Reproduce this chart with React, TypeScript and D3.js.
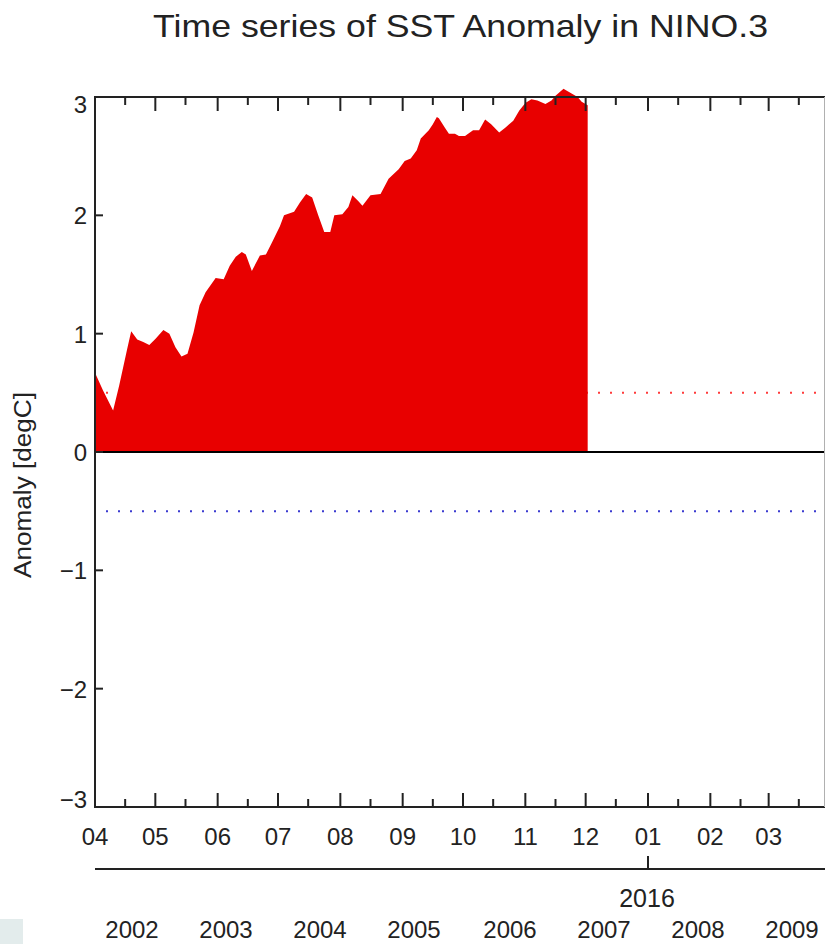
import { useEffect, useRef } from 'react'
import * as d3 from 'd3'

// daily NINO.3 SST anomaly, Apr - Dec 2015
const dates = [
  '2015-04-01', '2015-04-05', '2015-04-10', '2015-04-13', '2015-04-17', '2015-04-19',
  '2015-04-22', '2015-04-25', '2015-04-28', '2015-05-01', '2015-05-05', '2015-05-08',
  '2015-05-11', '2015-05-14', '2015-05-17', '2015-05-20', '2015-05-23', '2015-05-26',
  '2015-05-31', '2015-06-04', '2015-06-07', '2015-06-10', '2015-06-13', '2015-06-15',
  '2015-06-18', '2015-06-22', '2015-06-25', '2015-06-28', '2015-07-02', '2015-07-04',
  '2015-07-09', '2015-07-12', '2015-07-15', '2015-07-18', '2015-07-21', '2015-07-24',
  '2015-07-27', '2015-07-29', '2015-08-02', '2015-08-05', '2015-08-07', '2015-08-10',
  '2015-08-12', '2015-08-16', '2015-08-21', '2015-08-25', '2015-08-30', '2015-09-02',
  '2015-09-05', '2015-09-08', '2015-09-10', '2015-09-14', '2015-09-16', '2015-09-18',
  '2015-09-19', '2015-09-22', '2015-09-24', '2015-09-27', '2015-09-29', '2015-10-02',
  '2015-10-06', '2015-10-09', '2015-10-12', '2015-10-15', '2015-10-19', '2015-10-22',
  '2015-10-26', '2015-10-29', '2015-11-01', '2015-11-04', '2015-11-07', '2015-11-11',
  '2015-11-14', '2015-11-16', '2015-11-20', '2015-11-21', '2015-11-24', '2015-11-27',
  '2015-11-29', '2015-12-02'
]
const anomaly = [
  0.67, 0.52, 0.35, 0.56, 0.87, 1.02,
  0.95, 0.93, 0.905, 0.955, 1.03, 1.0,
  0.885, 0.806, 0.83, 1.01, 1.24, 1.35,
  1.47, 1.46, 1.575, 1.65, 1.69, 1.67,
  1.53, 1.66, 1.67, 1.77, 1.91, 2.0,
  2.03, 2.11, 2.18, 2.15, 2.0, 1.86,
  1.86, 2.0, 2.01, 2.07, 2.17, 2.12,
  2.08, 2.17, 2.18, 2.31, 2.39, 2.46,
  2.48, 2.55, 2.65, 2.72, 2.77, 2.83,
  2.82, 2.74, 2.69, 2.69, 2.67, 2.67,
  2.72, 2.72, 2.81, 2.77, 2.70, 2.74,
  2.80, 2.885, 2.95, 2.98, 2.97, 2.94,
  2.97, 3.01, 3.07, 3.06, 3.03, 3.0,
  2.96, 2.93
]

const yTicks = [-3, -2, -1, 0, 1, 2, 3]
const thresholds = [0.5, -0.5]
const thresholdColors = ['#ff3a3a', '#3a3ad0']
const yearLabels = ['2002', '2003', '2004', '2005', '2006', '2007', '2008', '2009']
const yearCenters = [132, 226, 320, 414, 510, 604, 698, 792]

export default function App() {
  const svgRef = useRef<SVGSVGElement>(null)

  useEffect(() => {
    if (!svgRef.current) return
    document.body.style.margin = '0'

    const svg = d3.select(svgRef.current)
    svg.selectAll('*').remove()

    const width = 825
    const height = 944
    const left = 95
    const right = 831
    const top = 97
    const bottom = 807
    const font = "'Liberation Sans', Arial, sans-serif"
    const ink = '#222'

    svg.attr('width', width).attr('height', height)

    const parse = d3.utcParse('%Y-%m-%d')
    const start = parse('2015-04-01') as Date
    const end = parse('2016-04-01') as Date

    const x = d3.scaleUtc().domain([start, end]).range([left, right])
    const y = d3.scaleLinear().domain([-3, 3]).range([bottom, top])

    const data = dates.map((d, i) => ({ date: parse(d) as Date, value: anomaly[i] }))

    // bottom-left page scrap
    svg.append('rect')
      .attr('x', 0).attr('y', 919).attr('width', 23).attr('height', 25)
      .style('fill', '#e3ecec')

    // threshold lines (dotted), red one sits under the fill
    thresholds.forEach((t, i) => {
      svg.append('line')
        .attr('x1', left - 1).attr('x2', width)
        .attr('y1', y(t)).attr('y2', y(t))
        .style('stroke', thresholdColors[i])
        .style('stroke-width', 2)
        .style('stroke-dasharray', '2 10')
    })

    // anomaly fill
    const area = d3.area<{ date: Date; value: number }>()
      .x(d => x(d.date))
      .y0(y(0))
      .y1(d => y(d.value))
      .curve(d3.curveLinear)

    svg.append('path')
      .datum(data)
      .attr('d', area)
      .style('fill', '#e80000')

    // zero line
    svg.append('line')
      .attr('x1', left).attr('x2', width)
      .attr('y1', y(0)).attr('y2', y(0))
      .style('stroke', '#000')
      .style('stroke-width', 2.2)

    // frame
    const frame = svg.append('g').style('stroke', ink).style('stroke-width', 2)
    frame.append('line').attr('x1', left).attr('x2', width).attr('y1', top).attr('y2', top)
    frame.append('line').attr('x1', left).attr('x2', width).attr('y1', bottom).attr('y2', bottom)
    frame.append('line').attr('x1', left).attr('x2', left).attr('y1', top - 1).attr('y2', bottom + 1)

    svg.append('line')
      .attr('x1', 824.5).attr('x2', 824.5).attr('y1', top).attr('y2', bottom)
      .style('stroke', '#b0b0b0').style('stroke-width', 1)

    // month ticks
    const months = d3.utcMonth.range(start, end)
    const mids = months.map(m => d3.utcDay.offset(m, 15))

    months.forEach(m => {
      frame.append('line').attr('x1', x(m)).attr('x2', x(m)).attr('y1', top).attr('y2', top + 14)
      frame.append('line').attr('x1', x(m)).attr('x2', x(m)).attr('y1', bottom).attr('y2', bottom - 14)
    })
    mids.forEach(m => {
      frame.append('line').attr('x1', x(m)).attr('x2', x(m)).attr('y1', top).attr('y2', top + 8)
      frame.append('line').attr('x1', x(m)).attr('x2', x(m)).attr('y1', bottom).attr('y2', bottom - 8)
    })

    svg.append('g')
      .selectAll('text')
      .data(months)
      .join('text')
      .attr('x', d => x(d))
      .attr('y', 845)
      .attr('text-anchor', 'middle')
      .style('font-family', font)
      .style('font-size', '24px')
      .style('fill', ink)
      .text(d => d3.utcFormat('%m')(d))

    // y ticks
    yTicks.forEach(t => {
      frame.append('line').attr('x1', left).attr('x2', left + 8).attr('y1', y(t)).attr('y2', y(t))
      const base = t === 3 ? y(t) + 16 : t === -3 ? y(t) + 1 : y(t) + 9
      svg.append('text')
        .attr('x', 87)
        .attr('y', base)
        .attr('text-anchor', 'end')
        .style('font-family', font)
        .style('font-size', '24px')
        .style('fill', ink)
        .text(t < 0 ? '\u2212' + Math.abs(t) : String(t))
    })

    // year axis
    const newYear = parse('2016-01-01') as Date
    svg.append('line')
      .attr('x1', left).attr('x2', width).attr('y1', 869).attr('y2', 869)
      .style('stroke', ink).style('stroke-width', 2)
    svg.append('line')
      .attr('x1', x(newYear)).attr('x2', x(newYear)).attr('y1', 869).attr('y2', 856)
      .style('stroke', ink).style('stroke-width', 2)
    svg.append('text')
      .attr('x', x(newYear) - 1)
      .attr('y', 907)
      .attr('text-anchor', 'middle')
      .style('font-family', font)
      .style('font-size', '25px')
      .style('fill', ink)
      .text('2016')

    // year list under the chart
    svg.append('g')
      .selectAll('text')
      .data(yearLabels)
      .join('text')
      .attr('x', (d, i) => yearCenters[i])
      .attr('y', 938)
      .attr('text-anchor', 'middle')
      .style('font-family', font)
      .style('font-size', '24px')
      .style('fill', ink)
      .text(d => d)

    // title
    svg.append('text')
      .attr('x', 460.5)
      .attr('y', 37)
      .attr('text-anchor', 'middle')
      .attr('textLength', 615)
      .attr('lengthAdjust', 'spacingAndGlyphs')
      .style('font-family', font)
      .style('font-size', '32px')
      .style('fill', ink)
      .text('Time series of SST Anomaly in NINO.3')

    // y label
    svg.append('text')
      .attr('transform', 'translate(31, 485) rotate(-90)')
      .attr('text-anchor', 'middle')
      .attr('textLength', 186)
      .attr('lengthAdjust', 'spacingAndGlyphs')
      .style('font-family', font)
      .style('font-size', '23px')
      .style('fill', ink)
      .text('Anomaly [degC]')
  }, [])

  return <svg ref={svgRef} style={{ display: 'block' }}></svg>
}
